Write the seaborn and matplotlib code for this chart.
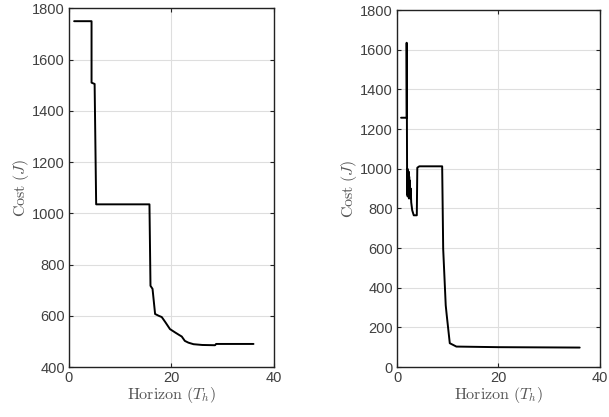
import matplotlib
matplotlib.use("Agg")
import matplotlib.pyplot as plt
import numpy as np
import pandas as pd
import seaborn as sns

# left panel: cost vs horizon
horizon_a = [1.0, 4.4, 4.4, 5.0, 5.3, 15.7, 15.9, 16.3, 16.8, 17.5, 18.1, 18.8, 19.7,
             20.7, 21.5, 22.0, 22.6, 23.3, 24.3, 26.0, 28.5, 28.7, 36.0]
cost_a = [1750, 1750, 1510, 1505, 1035, 1035, 717, 705, 607, 600, 595, 575, 548,
          535, 525, 519, 502, 495, 489, 486, 485, 490, 490]

# right panel: cost vs horizon
horizon_b = [0.8, 1.9, 1.9, 2.0, 2.05, 2.1, 2.15, 2.2, 2.3, 2.35, 2.4, 2.5, 2.55, 2.6,
             2.7, 2.8, 3.0, 3.3, 3.9, 4.0, 4.4, 8.9, 9.1, 9.6, 9.8, 10.4, 11.7, 20.0, 36.0]
cost_b = [1257, 1257, 1635, 870, 1000, 860, 990, 880, 985, 850, 960, 870, 940, 850,
          900, 830, 790, 765, 765, 1005, 1012, 1012, 595, 311, 261, 120, 103, 100, 98]

tick_col = "#404040"

sns.set_theme(style="ticks")
plt.rcParams["mathtext.fontset"] = "cm"
plt.rcParams["font.family"] = ["Liberation Sans", "DejaVu Sans"]

fig = plt.figure(figsize=(6.09, 4.17), dpi=100)
ax1 = fig.add_axes([0.1133, 0.1199, 0.3366, 0.860])
ax2 = fig.add_axes([0.6519, 0.1199, 0.3333, 0.856])

df_a = pd.DataFrame({"h": horizon_a, "c": cost_a})
df_b = pd.DataFrame({"h": horizon_b, "c": cost_b})

for ax, df, ylim, yticks in [
    (ax1, df_a, (400, 1800), np.arange(400, 1801, 200)),
    (ax2, df_b, (0, 1800), np.arange(0, 1801, 200)),
]:
    sns.lineplot(data=df, x="h", y="c", ax=ax, sort=False, estimator=None,
                 color="black", linewidth=1.4)
    ax.set_xlim(0, 40)
    ax.set_ylim(*ylim)
    ax.set_xticks([0, 20, 40])
    ax.set_yticks(yticks)
    ax.grid(True, color="#dedede", linewidth=0.8)
    ax.set_axisbelow(True)
    ax.tick_params(direction="in", top=True, right=True, length=3, width=0.8,
                   labelsize=10.5, labelcolor=tick_col, color="#222222", pad=3)
    for s in ax.spines.values():
        s.set_color("#222222")
        s.set_linewidth(1.0)
        s.set_visible(True)
    ax.set_xlabel(r"$\mathrm{Horizon}\ (T_h)$", fontsize=11.5, color="#555555", labelpad=0)
    ax.set_ylabel(r"$\mathrm{Cost}\ (J)$", fontsize=11.5, color="#555555", labelpad=1)

fig.savefig("out.png", dpi=100)
